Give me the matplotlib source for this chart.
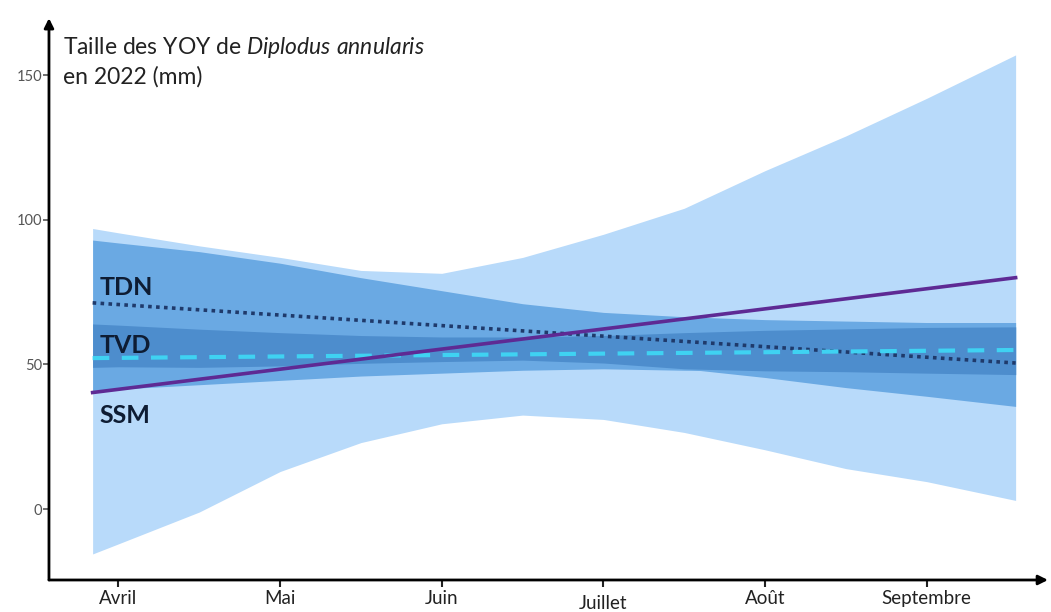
import numpy as np
import matplotlib.pyplot as plt

plt.rcParams['font.family'] = ['Lato', 'DejaVu Sans']
plt.rcParams['mathtext.fontset'] = 'custom'
plt.rcParams['mathtext.rm'] = 'Lato'
plt.rcParams['mathtext.it'] = 'Lato:italic'

# months on x (Avril = 0)
months = ['Avril', 'Mai', 'Juin', 'Juillet', 'Août', 'Septembre']

xs = [-0.16, 0, 0.5, 1, 1.5, 2, 2.5, 3, 3.5, 4, 4.5, 5, 5.55]

# SSM confidence band (widest)
ssm_hi = [97, 95.5, 91, 87, 82.5, 81.5, 87, 95, 104, 117, 129, 142, 157]
ssm_lo = [-15.5, -12, -1, 13, 23, 29.5, 32.5, 31, 26.5, 20.5, 14, 9.5, 3]
# TDN band
tdn_hi = [93, 92, 89, 85, 80, 75.5, 71, 68, 66.5, 65.5, 65, 64.5, 64.5]
tdn_lo = [49, 49.2, 49, 49.5, 50.4, 51, 51.5, 50.5, 48.5, 45.5, 42, 39, 35.5]
# TVD band
tvd_hi = [64, 63.6, 62.2, 61, 60, 59.5, 59.5, 60, 61, 61.8, 62.3, 62.8, 63]
tvd_lo = [41, 41.5, 43, 44.5, 46, 47, 48, 48.5, 48, 47.8, 47.5, 47, 46.5]

# fitted lines (start, end)
line_x = [-0.16, 5.55]
ssm_fit = [40.3, 80]
tdn_fit = [71.3, 50.5]
tvd_fit = [52.2, 55]

light = '#b8dafa'
medium = '#6aa9e3'
dark = '#4d8dcd'

fig = plt.figure(figsize=(10.51, 6.12), dpi=100)
ax = fig.add_axes([0.0466, 0.0523, 0.9505, 0.918])

x = np.array(xs)
ax.fill_between(x, ssm_lo, ssm_hi, color=light, lw=0)
ax.fill_between(x, tdn_lo, tdn_hi, color=medium, lw=0)
ax.fill_between(x, tvd_lo, tvd_hi, color=medium, lw=0)
ov_lo = np.maximum(tdn_lo, tvd_lo)
ov_hi = np.minimum(tdn_hi, tvd_hi)
ax.fill_between(x, ov_lo, ov_hi, where=ov_hi > ov_lo, color=dark, lw=0)

ax.plot(line_x, tdn_fit, color='#1f3a6b', lw=2.6, ls=(0, (1, 1.2)))
ax.plot(line_x, tvd_fit, color='#3fd2f2', lw=3, ls=(0, (4, 3)))
ax.plot(line_x, ssm_fit, color='#5e2a94', lw=2.6)

lab = dict(fontsize=18, fontweight='bold', color='#0e1c33', va='center')
ax.text(-0.115, 76.7, 'TDN', **lab)
ax.text(-0.115, 56.7, 'TVD', **lab)
ax.text(-0.115, 32.5, 'SSM', **lab)

ax.text(-0.343, 159.7, r'Taille des YOY de $\it{Diplodus\ annularis}$',
        fontsize=16.5, color='#222222', va='center')
ax.text(-0.343, 149.3, 'en 2022 (mm)', fontsize=16.5, color='#222222', va='center')

ax.set_xlim(-0.43, 5.75)
ax.set_ylim(-24.5, 169.7)

for s in ['top', 'right', 'left', 'bottom']:
    ax.spines[s].set_visible(False)
ax.annotate('', xy=(0, 1), xytext=(0, 0), xycoords='axes fraction',
            arrowprops=dict(arrowstyle='-|>', color='black', lw=2,
                            mutation_scale=14, shrinkA=0, shrinkB=0))
ax.annotate('', xy=(1, 0), xytext=(0, 0), xycoords='axes fraction',
            arrowprops=dict(arrowstyle='-|>', color='black', lw=2,
                            mutation_scale=14, shrinkA=0, shrinkB=0))

ax.set_xticks(range(len(months)))
ax.set_xticklabels(months, fontsize=13.5, color='#222222')
ax.tick_params(axis='x', length=5, width=1.5, color='#222222', pad=2)
ax.get_xticklabels()[3].set_y(-0.009)
ax.set_yticks([0, 50, 100, 150])
ax.tick_params(axis='y', length=4, width=1.2, color='#555555',
               labelsize=10.5, labelcolor='#555555', pad=1)

fig.savefig('out.png', dpi=100)
